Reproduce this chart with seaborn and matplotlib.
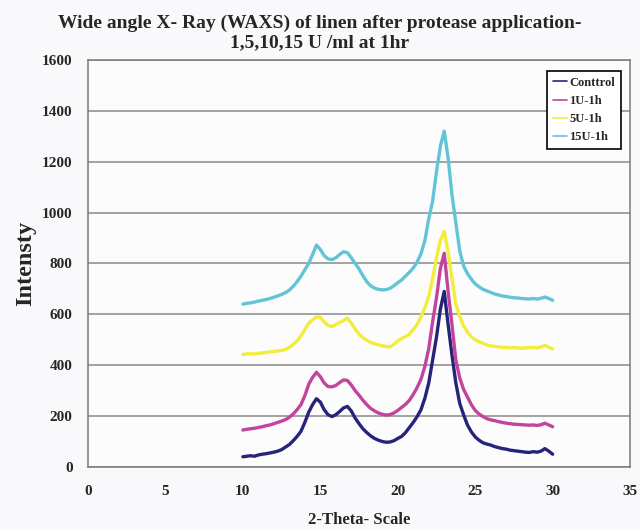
import numpy as np
import pandas as pd
import matplotlib
matplotlib.use("Agg")
import matplotlib.pyplot as plt
import seaborn as sns

two_theta = np.round(np.arange(10.0, 30.001, 0.25), 2)

control = [40, 42, 44, 42, 47, 50, 52, 55, 58, 62, 68, 78, 88, 103, 120, 140,
           175, 215, 245, 268, 255, 225, 205, 198, 205, 218, 232, 238, 220, 192,
           170, 150, 135, 122, 112, 105, 100, 97, 98, 103, 112, 120, 135, 155,
           175, 198, 225, 270, 330, 420, 510, 620, 690, 560, 440, 330, 250, 205,
           165, 138, 118, 105, 95, 90, 86, 80, 76, 72, 70, 66, 64, 62, 60, 58,
           57, 60, 58, 62, 72, 62, 50]

u1 = [145, 148, 150, 152, 155, 158, 162, 165, 170, 175, 180, 186, 195, 208,
      225, 245, 280, 325, 352, 372, 355, 330, 316, 315, 320, 332, 342, 340,
      322, 300, 282, 262, 245, 230, 220, 212, 207, 204, 206, 212, 222, 234,
      246, 262, 285, 312, 345, 395, 465, 570, 665, 780, 840, 690, 560, 420,
      350, 305, 275, 245, 222, 208, 198, 190, 185, 182, 178, 175, 172, 170,
      168, 167, 166, 165, 164, 165, 163, 166, 172, 165, 158]

u5 = [442, 444, 445, 444, 447, 448, 450, 452, 454, 456, 458, 462, 470, 482,
      495, 515, 540, 565, 578, 590, 588, 570, 556, 552, 560, 568, 575, 585,
      565, 542, 522, 508, 498, 490, 484, 480, 476, 473, 472, 482, 495, 505,
      512, 522, 540, 560, 590, 625, 670, 740, 820, 890, 925, 845, 740, 640,
      592, 555, 530, 512, 500, 492, 486, 480, 476, 474, 472, 470, 470, 468,
      469, 468, 467, 468, 469, 470, 468, 472, 478, 470, 464]

u15 = [640, 643, 645, 648, 652, 655, 658, 662, 667, 672, 678, 685, 695, 710,
       728, 750, 775, 800, 835, 872, 855, 830, 818, 815, 822, 835, 846, 842,
       822, 800, 778, 752, 728, 712, 703, 698, 696, 697, 702, 712, 724, 735,
       750, 765, 782, 805, 838, 890, 975, 1045, 1160, 1260, 1320, 1215, 1070,
       960, 850, 790, 760, 738, 720, 708, 698, 692, 686, 680, 676, 672, 670,
       667, 665, 664, 662, 661, 660, 662, 660, 663, 668, 662, 655]

series_names = ["Conttrol", "1U-1h", "5U-1h", "15U-1h"]
series_values = [control, u1, u5, u15]
colors = ["#27237a", "#c2449c", "#f4ec3c", "#62c4d6"]

x_ticks = [0, 5, 10, 15, 20, 25, 30, 35]
y_ticks = [0, 200, 400, 600, 800, 1000, 1200, 1400, 1600]

df = pd.concat([pd.DataFrame({"two_theta": two_theta, "intensity": v, "series": n})
                for n, v in zip(series_names, series_values)], ignore_index=True)

sns.set_style("white")
plt.rcParams["font.family"] = ["Liberation Serif", "DejaVu Serif"]
plt.rcParams["font.weight"] = "bold"

fig = plt.figure(figsize=(6.4, 5.3), dpi=100, facecolor="#f9f9fb")
ax = fig.add_axes([0.1375, 0.119, 0.847, 0.768])
ax.set_facecolor("#fcfcfd")

sns.lineplot(data=df, x="two_theta", y="intensity", hue="series",
             hue_order=series_names, palette=colors, linewidth=2.4, ax=ax,
             legend=True)

ax.set_xlim(0, 35)
ax.set_ylim(0, 1600)
ax.set_xticks(x_ticks)
ax.set_yticks(y_ticks)
ax.tick_params(axis="both", labelsize=11, direction="out", length=5,
               width=1, color="#555555", pad=6)
for lab in ax.get_xticklabels() + ax.get_yticklabels():
    lab.set_fontweight("bold")
ax.tick_params(axis="x", pad=8)
ax.yaxis.grid(True, color="#8a8a8a", linewidth=1.1)
ax.set_axisbelow(True)
for s in ax.spines.values():
    s.set_color("#7a7a7a")
    s.set_linewidth(1.1)

ax.set_xlabel("2-Theta- Scale", fontsize=12, fontweight="bold", labelpad=10)
ax.set_ylabel("Intensty", fontsize=17.5, fontweight="bold", labelpad=4)
fig.suptitle("Wide angle X- Ray (WAXS) of linen after protease application-\n1,5,10,15 U /ml at 1hr",
             fontsize=14, fontweight="bold", y=0.973, linespacing=1.2)

leg = ax.legend(loc="upper right", bbox_to_anchor=(0.994, 0.988), frameon=True,
                fancybox=False, edgecolor="black", framealpha=1,
                prop={"weight": "bold", "size": 9}, handlelength=1.1,
                handletextpad=0.2, borderpad=0.45, labelspacing=0.5)
leg.get_frame().set_linewidth(1.2)
for line in leg.get_lines():
    line.set_linewidth(1.2)

fig.savefig("out.png", dpi=100, facecolor=fig.get_facecolor())
